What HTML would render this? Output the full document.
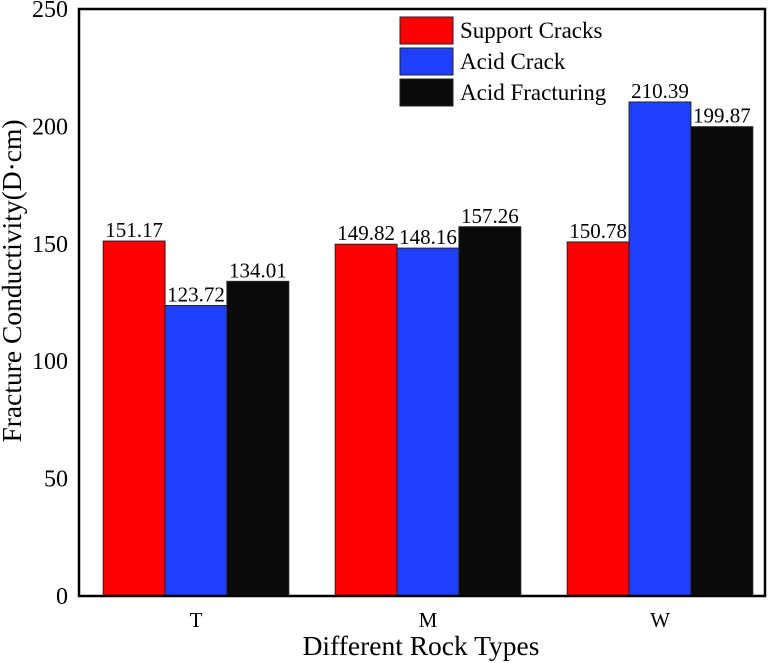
<!DOCTYPE html>
<html><head><meta charset="utf-8"><style>
html,body{margin:0;padding:0;background:#fff;}
svg{display:block;font-family:"Liberation Serif",serif;}
</style></head><body>
<svg id="chart" width="776" height="663" viewBox="0 0 776 663" xmlns="http://www.w3.org/2000/svg">
<g id="bars"></g>
<g id="labels"></g>
<rect x="79" y="9" width="686" height="587" fill="none" stroke="#000" stroke-width="2.5"/>
<g id="yticks"></g>
<g id="xticks"></g>
<text x="421" y="655" font-size="27.5" text-anchor="middle">Different Rock Types</text>
<text transform="translate(21,281) rotate(-90)" font-size="27.5" text-anchor="middle">Fracture Conductivity(D·cm)</text>
<g>
 <rect x="400" y="17" width="53" height="27" fill="#ff0000" stroke="#222" stroke-width="1"/>
 <text x="460" y="38" font-size="23">Support Cracks</text>
 <rect x="400" y="48" width="53" height="27" fill="#2040ff" stroke="#222" stroke-width="1"/>
 <text x="460" y="69" font-size="23">Acid Crack</text>
 <rect x="400" y="79" width="53" height="27" fill="#0a0a0a" stroke="#222" stroke-width="1"/>
 <text x="460" y="100" font-size="23">Acid Fracturing</text>
</g>
</svg>
<script>
const categories = ["T","M","W"];
const supportCracks = [151.17,149.82,150.78];
const acidCrack = [123.72,148.16,210.39];
const acidFracturing = [134.01,157.26,199.87];
const yTicks = [0,50,100,150,200,250];

const seriesList = [supportCracks, acidCrack, acidFracturing];
const seriesNames = ["support-cracks","acid-crack","acid-fracturing"];
const colors = ["#ff0000","#2040ff","#0a0a0a"];
const NS = "http://www.w3.org/2000/svg";
const y0 = 596, yTop = 9, yMax = 250;
function yScale(v){ return y0 - v/yMax*(y0-yTop); }
const x0 = 79, bandW = 232, groupFrac = 0.8;
function xCenter(i){ return x0 + 117 + i*bandW; }
const barW = bandW*groupFrac/3;

const bars = document.getElementById('bars');
const labels = document.getElementById('labels');
categories.forEach((c,i)=>{
  seriesList.forEach((s,j)=>{
    const x = xCenter(i) - bandW*groupFrac/2 + j*barW;
    const r = document.createElementNS(NS,'rect');
    r.setAttribute('x', x); r.setAttribute('y', yScale(s[i]));
    r.setAttribute('width', barW); r.setAttribute('height', y0 - yScale(s[i]));
    r.setAttribute('fill', colors[j]); r.setAttribute('stroke','#222'); r.setAttribute('stroke-width','1');
    
    
    bars.appendChild(r);
    const t = document.createElementNS(NS,'text');
    t.setAttribute('x', x + barW/2); t.setAttribute('y', yScale(s[i]) - 4);
    t.setAttribute('font-size','21'); t.setAttribute('text-anchor','middle');
    t.textContent = s[i].toFixed(2);
    
    
    labels.appendChild(t);
  });
  const xt = document.createElementNS(NS,'text');
  xt.setAttribute('x', xCenter(i)); xt.setAttribute('y', 627);
  xt.setAttribute('font-size','21'); xt.setAttribute('text-anchor','middle');
  xt.textContent = c;
  
  
  document.getElementById('xticks').appendChild(xt);
});
yTicks.forEach(v=>{
  const t = document.createElementNS(NS,'text');
  t.setAttribute('x', 68); t.setAttribute('y', yScale(v) + 8);
  t.setAttribute('font-size','24'); t.setAttribute('text-anchor','end');
  t.textContent = v;
  
  
  document.getElementById('yticks').appendChild(t);
});
</script>
</body></html>
